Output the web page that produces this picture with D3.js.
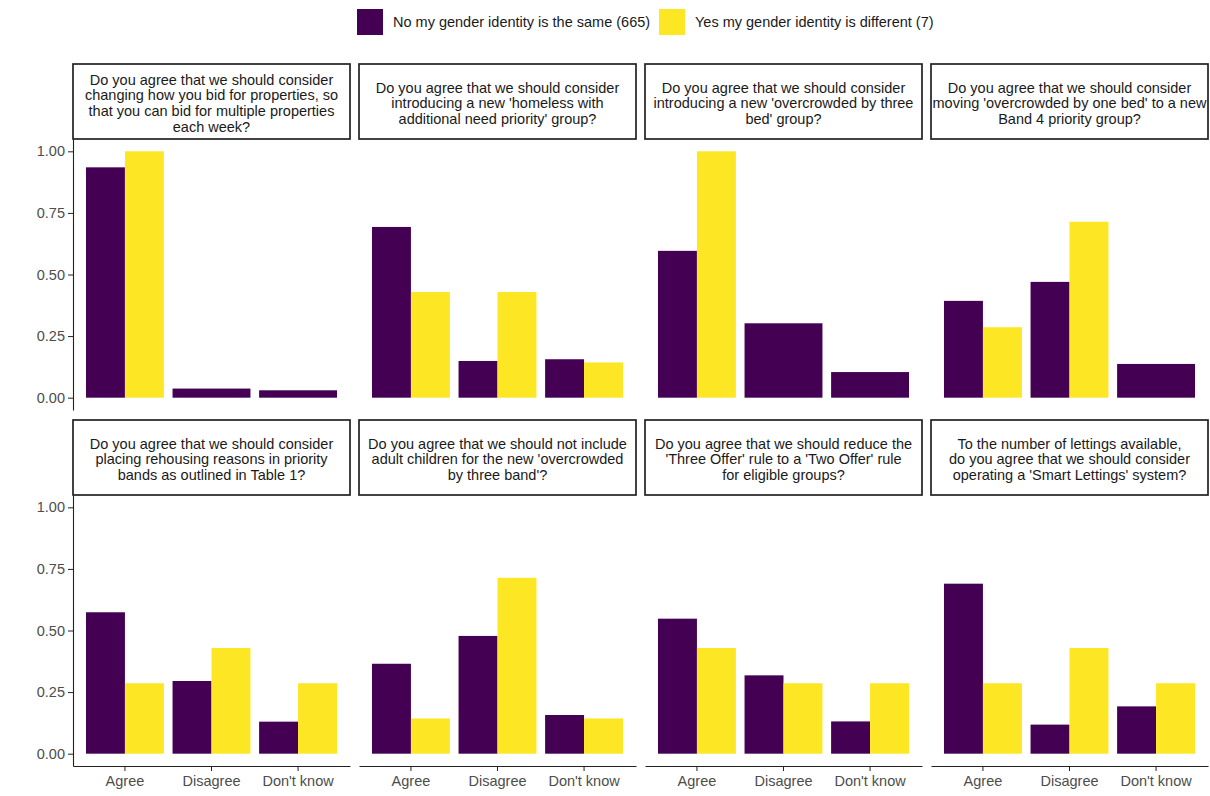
<!DOCTYPE html>
<html>
<head>
<meta charset="utf-8">
<script src="https://cdn.jsdelivr.net/npm/d3@7"></script>
<style>
  body { margin: 0; background: #fff; }
  text { font-family: "Liberation Sans", Arial, sans-serif; }
</style>
</head>
<body>
<script>
// categories on the x axis of every panel
var categories = ["Agree", "Disagree", "Don't know"];

// the two respondent groups
var groups = ["No my gender identity is the same (665)", "Yes my gender identity is different (7)"];
var colors = ["#440154", "#FDE725"];

// facet titles, already wrapped the way they appear
var questions = [
  ["Do you agree that we should consider", "changing how you bid for properties, so", "that you can bid for multiple properties", "each week?"],
  ["Do you agree that we should consider", "introducing a new 'homeless with", "additional need priority' group?"],
  ["Do you agree that we should consider", "introducing a new 'overcrowded by three", "bed' group?"],
  ["Do you agree that we should consider", "moving 'overcrowded by one bed' to a new", "Band 4 priority group?"],
  ["Do you agree that we should consider", "placing rehousing reasons in priority", "bands as outlined in Table 1?"],
  ["Do you agree that we should not include", "adult children for the new 'overcrowded", "by three band'?"],
  ["Do you agree that we should reduce the", "'Three Offer' rule to a 'Two Offer' rule", "for eligible groups?"],
  ["To the number of lettings available,", "do you agree that we should consider", "operating a 'Smart Lettings' system?"]
];

// proportions per panel (Agree, Disagree, Don't know); null = no answers
var noSame = [
  [0.935, 0.037, 0.030],
  [0.693, 0.149, 0.156],
  [0.596, 0.302, 0.104],
  [0.393, 0.470, 0.137],
  [0.574, 0.295, 0.130],
  [0.365, 0.478, 0.157],
  [0.548, 0.318, 0.131],
  [0.690, 0.118, 0.192]
];
var yesDiff = [
  [1.000, null, null],
  [0.429, 0.429, 0.143],
  [1.000, null, null],
  [0.286, 0.714, null],
  [0.286, 0.429, 0.286],
  [0.143, 0.714, 0.143],
  [0.429, 0.286, 0.286],
  [0.286, 0.429, 0.286]
];

var yTicks = [0, 0.25, 0.5, 0.75, 1];

// layout
var w = 1210, h = 796;
var ncol = 4;
var panelLeft = 73, panelW = 277, panelGap = 9;
var stripTop = 64, stripH = 75, plotH = 271, rowStep = 356;
var fontSize = 14.5;
var lineColor = "#222";

var svg = d3.select("body").append("svg")
  .attr("width", w)
  .attr("height", h);

// legend
var legend = svg.append("g");
var legX = [357, 659];
groups.forEach(function(g, i) {
  legend.append("rect")
    .attr("x", legX[i]).attr("y", 9)
    .attr("width", 26).attr("height", 26)
    .attr("fill", colors[i]);
  legend.append("text")
    .attr("x", legX[i] + 36).attr("y", 27)
    .attr("font-size", fontSize)
    .attr("fill", "#1a1a1a")
    .text(g);
});

var defs = svg.append("defs");

questions.forEach(function(q, p) {
  var col = p % ncol, row = Math.floor(p / ncol);
  var x0 = panelLeft + col * (panelW + panelGap);
  var sTop = stripTop + row * rowStep;
  var pTop = sTop + stripH;
  var pBottom = pTop + plotH;

  var x = d3.scaleBand()
    .domain(categories)
    .range([x0, x0 + panelW])
    .paddingInner(0.1)
    .paddingOuter(0.15);

  var y = d3.scaleLinear()
    .domain([-0.05, 1.05])
    .range([pBottom, pTop]);

  // strip box with clipped title
  defs.append("clipPath").attr("id", "clip" + p)
    .append("rect")
    .attr("x", x0).attr("y", sTop)
    .attr("width", panelW).attr("height", stripH);

  svg.append("rect")
    .attr("x", x0).attr("y", sTop)
    .attr("width", panelW).attr("height", stripH)
    .attr("fill", "#fff")
    .attr("stroke", lineColor)
    .attr("stroke-width", 1.7);

  var cy = sTop + stripH / 2 + 1.7;
  svg.append("g").attr("clip-path", "url(#clip" + p + ")")
    .selectAll("text")
    .data(q)
    .enter()
    .append("text")
    .attr("x", x0 + panelW / 2)
    .attr("y", function(d, i) { return cy + (i - (q.length - 1) / 2) * 15.6 + 5; })
    .attr("text-anchor", "middle")
    .attr("font-size", fontSize)
    .attr("fill", "#1a1a1a")
    .text(function(d) { return d; });

  // bars (dodged; a lone group takes the whole slot)
  var bars = [];
  categories.forEach(function(c, ci) {
    var vals = [noSame[p][ci], yesDiff[p][ci]];
    var present = [];
    vals.forEach(function(v, gi) { if (v !== null) present.push(gi); });
    var bw = x.bandwidth() / present.length;
    present.forEach(function(gi, k) {
      bars.push({ x: x(c) + k * bw, w: bw, v: vals[gi], g: gi });
    });
  });

  svg.append("g").selectAll("rect")
    .data(bars)
    .enter()
    .append("rect")
    .attr("x", function(d) { return d.x; })
    .attr("width", function(d) { return d.w; })
    .attr("y", function(d) { return y(d.v); })
    .attr("height", function(d) { return y(0) - y(d.v); })
    .attr("fill", function(d) { return colors[d.g]; });

  // y axis on the first column only
  if (col === 0) {
    var yAxisG = svg.append("g")
      .attr("transform", "translate(" + x0 + ",0)")
      .call(d3.axisLeft(y).tickValues(yTicks).tickFormat(d3.format(".2f")).tickSize(5).tickSizeOuter(0).tickPadding(3));
    yAxisG.selectAll("text").attr("font-size", fontSize).attr("fill", "#4d4d4d").attr("font-family", null);
    yAxisG.selectAll("line").attr("stroke", lineColor);
    yAxisG.select(".domain").attr("stroke", lineColor).attr("stroke-width", 1.1);
  }

  // x axis on the bottom row only
  if (row === 1) {
    var xAxisG = svg.append("g")
      .attr("transform", "translate(0," + pBottom + ")")
      .call(d3.axisBottom(x).tickSize(5).tickPadding(5).tickSizeOuter(0));
    xAxisG.selectAll("text").attr("font-size", fontSize).attr("fill", "#4d4d4d").attr("font-family", null);
    xAxisG.selectAll("line").attr("stroke", lineColor);
    xAxisG.select(".domain").attr("stroke", lineColor).attr("stroke-width", 1.1);
  }
});
</script>
</body>
</html>
